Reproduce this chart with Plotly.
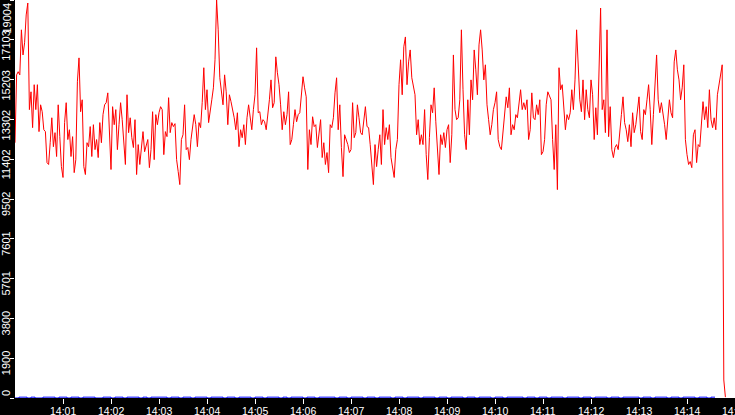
import pandas as pd
import plotly.graph_objects as go

DAY = "2024-01-01 "
START = DAY + "14:00:00"
END = DAY + "14:15:00"

# red series, one sample every 2 s (one row per minute)
RED_VALUES = [
    12190, 15430, 15580, 15430, 17580, 16380, 16960, 18290, 18860, 13770, 14620, 12910, 14960, 13770, 14960,
    12720, 14000, 13670, 12810, 12720, 11240, 11150, 12190, 13380, 12000, 12670, 11530, 14000, 12480, 11050,
    10530, 13150, 14100, 12340, 12810, 11530, 12480, 10760, 11380, 15100, 16240, 13670, 14240, 11050, 10670,
    12190, 12000, 12960, 11530, 13050, 11860, 12340, 11480, 13150, 12190, 13530, 14000, 14100, 14570, 12480,
    10910, 13910, 13050, 13770, 11860, 13050, 14100, 13290, 11960, 11150, 14480, 12670, 13380, 12430, 11960,
    13290, 10670, 12100, 11150, 11860, 12720, 11760, 12000, 12340, 11000, 11860, 13670, 11380, 13530, 13050,
    13620, 13910, 13770, 11620, 12720, 12480, 14340, 12670, 13150, 12960, 13100, 11380, 10810, 10190, 12340,
    12570, 14000, 11860, 11960, 11380, 12340, 12910, 13530, 13050, 12000, 13150, 12910, 14100, 15770, 13770,
    14720, 13150, 13860, 14240, 14810, 16150, 19004, 17580, 15290, 14620, 14000, 15430, 14620, 13050, 14480,
    14150, 13770, 13380, 12810, 13620, 12000, 12810, 12430, 13050, 12100, 13380, 14000, 13290, 12810, 13770,
    14480, 16720, 13620, 13670, 13050, 13290, 13190, 12810, 13430, 14240, 15190, 13860, 14100, 16290, 15530,
    14960, 14000, 12810, 13670, 13050, 13530, 14620, 12100, 12340, 13050, 13770, 13190, 13530, 13620, 14480,
    15340, 14810, 14380, 10910, 12810, 12100, 13430, 12960, 13050, 11960, 12570, 13290, 11480, 12190, 11150,
    11720, 10760, 13050, 12910, 13380, 14570, 15290, 12810, 14000, 11960, 10570, 12570, 12340, 12100, 11720,
    11860, 14100, 12430, 12670, 14000, 13380, 12670, 12570, 13380, 13910, 12960, 12910, 12100, 11000, 10190,
    12100, 11050, 11860, 12570, 11150, 13770, 12100, 12910, 12340, 13050, 11480, 11000, 10530, 11860, 12340,
    14960, 16150, 14480, 16770, 17240, 14960, 16050, 16620, 15290, 14960, 14480, 12570, 13290, 12100, 12570,
    12100, 13770, 11620, 10430, 12430, 14000, 13620, 14810, 13190, 11860, 10670, 12570, 12100, 12670, 11960,
    12810, 13050, 11240, 12570, 16380, 13770, 13290, 13380, 14240, 17580, 14720, 12570, 11860, 14240, 12570,
    15190, 14240, 16620, 15670, 14480, 16860, 17580, 16620, 15190, 15910, 14000, 13290, 12570, 13050, 13770,
    14100, 14620, 12340, 12000, 11860, 12810, 13770, 14380, 13860, 14810, 12570, 13050, 12810, 13530, 13380,
    14000, 14720, 13770, 14100, 13770, 14240, 12340, 12810, 14570, 13380, 13290, 14000, 13530, 14240, 11620,
    11760, 12340, 14000, 14620, 14380, 14240, 12340, 10910, 13050, 9950, 15770, 14720, 14960, 13860, 12810,
    13530, 13290, 13620, 14720, 13770, 15190, 17580, 15910, 14240, 13670, 15190, 13290, 14720, 13770, 13380,
    15190, 14480, 12340, 13860, 12570, 15670, 18620, 13770, 14240, 12670, 17580, 12480, 13910, 11860, 11480,
    11960, 12100, 11860, 12570, 13530, 14380, 13150, 12810, 12240, 13050, 12000, 13620, 12670, 13050, 13770,
    14380, 12720, 12340, 13770, 13530, 14240, 14960, 13770, 12100, 13530, 15190, 16380, 14240, 13620, 14100,
    13670, 13050, 12340, 13530, 14240, 13620, 13380, 16050, 16620, 15670, 15190, 14240, 14810, 15910, 12340,
    11620, 11150, 11290, 11000, 12570, 12810, 11240, 12100, 12000, 12910, 14150, 13290, 13910, 12910, 14720,
    13290, 12910, 13380, 12810, 14480, 14960, 15290, 15910, 860, 40,
]

# blue series, one sample every 5 s, sits on the floor
BLUE_VALUES = [
    0, 40, 40, 0, 40, 0, 0, 40, 40, 40, 0, 40,
    40, 0, 40, 40, 0, 40, 40, 40, 0, 0, 40, 40,
    0, 40, 40, 0, 40, 40, 40, 0, 40, 0, 40, 40,
    40, 40, 0, 40, 40, 0, 40, 40, 0, 40, 40, 40,
    0, 40, 40, 40, 0, 40, 40, 0, 40, 40, 40, 0,
    40, 40, 0, 40, 40, 40, 0, 40, 0, 40, 40, 40,
    0, 40, 40, 0, 40, 40, 40, 40, 0, 40, 40, 0,
    40, 40, 40, 0, 40, 40, 0, 40, 40, 40, 0, 40,
    40, 0, 40, 40, 40, 0, 40, 40, 40, 0, 40, 40,
    0, 40, 40, 40, 0, 40, 40, 0, 40, 40, 40, 0,
    40, 40, 0, 40, 40, 40, 40, 0, 40, 40, 0, 40,
    40, 0, 40, 40, 40, 0, 40, 40, 40, 0, 40, 40,
    0, 40, 40, 40, 0, 40, 40, 0, 40, 40, 40, 40,
    0, 40, 40, 0, 40, 40, 40, 0, 40, 40, 0, 40,
    40, 40, 0, 40, 40, 0, 40, 40,
]

X_TICK_LABELS = ["14:01", "14:02", "14:03", "14:04", "14:05", "14:06", "14:07", "14:08",
                 "14:09", "14:10", "14:11", "14:12", "14:13", "14:14", "14:15"]
Y_TICK_LABELS = ["0", "1900", "3800", "5701", "7601", "9502",
                 "11402", "13302", "15203", "17103", "19004"]

FONT = "Liberation Sans"

red_t = pd.date_range(START, periods=len(RED_VALUES), freq="2s")
blue_t = pd.date_range(START, periods=len(BLUE_VALUES), freq="5s")
x_ticks = [DAY + s for s in X_TICK_LABELS]
y_ticks = [int(s) for s in Y_TICK_LABELS]

fig = go.Figure()
fig.add_scatter(x=blue_t, y=BLUE_VALUES, mode="lines",
                line=dict(color="#0000ff", width=1, shape="hv"))
fig.add_scatter(x=red_t, y=RED_VALUES, mode="lines",
                line=dict(color="#ff0000", width=1))

# tick labels as annotations so they can sit the way the original app puts them
for t, s in zip(x_ticks, X_TICK_LABELS):
    fig.add_annotation(x=t, y=0, xref="x", yref="paper", text=s, showarrow=False,
                       xanchor="center", yanchor="top", yshift=-5,
                       font=dict(family=FONT, size=10.5, color="white"))

for i, (v, s) in enumerate(zip(y_ticks, Y_TICK_LABELS)):
    if i == 0:
        anchor, shift = "bottom", 0
    elif i == len(y_ticks) - 1:
        anchor, shift = "top", 0
    else:
        anchor, shift = "middle", -5
    fig.add_annotation(x=0, y=v, xref="paper", yref="y", text=s, showarrow=False,
                       textangle=-90, xanchor="right", yanchor=anchor,
                       xshift=-1, yshift=shift,
                       font=dict(family=FONT, size=11, color="white"))

fig.update_layout(
    width=735, height=415,
    margin=dict(l=15, r=0, t=0, b=17),
    paper_bgcolor="black", plot_bgcolor="white",
    showlegend=False,
    xaxis=dict(
        type="date", range=[START, END],
        tickvals=x_ticks, showticklabels=False,
        ticks="outside", ticklen=5, tickcolor="white",
        showgrid=False, zeroline=False, showline=False, automargin=False,
    ),
    yaxis=dict(
        range=[0, 19004],
        tickvals=y_ticks, showticklabels=False,
        ticks="outside", ticklen=4, tickcolor="white",
        showgrid=False, zeroline=False, showline=False, automargin=False,
    ),
)

# the page's default body margin would push the chart off the window
fig.write_html("out.html", config={"displayModeBar": False},
               post_script=["document.body.style.margin='0';document.body.style.overflow='hidden';"])
